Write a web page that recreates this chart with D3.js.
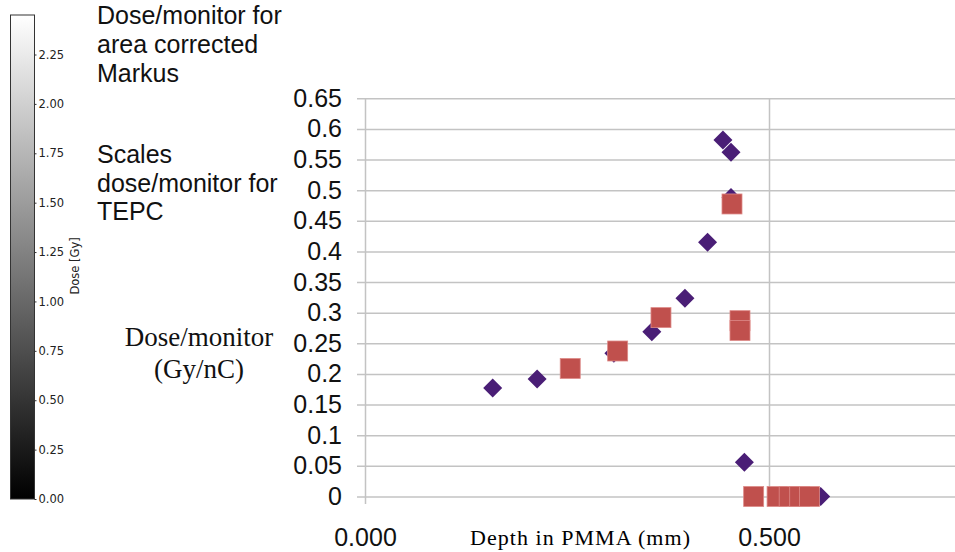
<!DOCTYPE html>
<html>
<head>
<meta charset="utf-8">
<script src="https://cdn.jsdelivr.net/npm/d3@7"></script>
<style>
  body { margin: 0; background: #fff; }
  svg { display: block; }
  .sans { font-family: "Liberation Sans", Arial, sans-serif; }
  .serif { font-family: "Liberation Serif", "Times New Roman", serif; }
</style>
</head>
<body>
<div class="canvas"></div>
<script>
const dims = { width: 955, height: 552 };

// area corrected Markus (diamonds)
const markusDepth = [0.158, 0.213, 0.308, 0.355, 0.396, 0.424, 0.453, 0.443, 0.453, 0.4695, 0.564];
const markusDose = [0.177, 0.192, 0.234, 0.269, 0.3235, 0.415, 0.488, 0.582, 0.562, 0.056, 0];

// scaled TEPC (squares)
const tepcDepth = [0.254, 0.3127, 0.3663, 0.4542, 0.4641, 0.4641, 0.481, 0.510, 0.525, 0.538, 0.550];
const tepcDose = [0.209, 0.2375, 0.292, 0.4775, 0.287, 0.271, 0, 0, 0, 0, 0];

const yTicks = [0, 0.05, 0.1, 0.15, 0.2, 0.25, 0.3, 0.35, 0.4, 0.45, 0.5, 0.55, 0.6, 0.65];
const xTicks = [0, 0.5];
const doseTicks = [0, 0.25, 0.5, 0.75, 1.0, 1.25, 1.5, 1.75, 2.0, 2.25];

const svg = d3.select('.canvas')
    .append('svg')
    .attr('width', dims.width)
    .attr('height', dims.height);

const x = d3.scaleLinear().domain([0, 0.5]).range([365, 769]);
const y = d3.scaleLinear().domain([0, 0.65]).range([496.5, 98.3]);

// horizontal grid + y labels
const yAxis = svg.append('g')
    .attr('class', 'sans')
    .attr('transform', 'translate(357,0)')
    .call(d3.axisLeft(y).tickValues(yTicks).tickSize(-(dims.width - 357)).tickPadding(15).tickFormat(d => String(d)));
yAxis.select('.domain').remove();
yAxis.selectAll('line').attr('stroke', '#c3c3c3').attr('stroke-width', 1.5);
yAxis.selectAll('text').attr('font-size', 25).attr('fill', '#111');

// vertical grid + x labels
const xAxis = svg.append('g')
    .attr('class', 'sans')
    .attr('transform', 'translate(0,504)')
    .call(d3.axisBottom(x).tickValues(xTicks).tickSize(-(504 - 98.3)).tickPadding(24).tickFormat(d3.format('.3f')));
xAxis.select('.domain').remove();
xAxis.selectAll('line').attr('stroke', '#c3c3c3').attr('stroke-width', 1.5);
xAxis.selectAll('text').attr('font-size', 25).attr('fill', '#111');

// markers
const diamond = 9.5;
svg.append('g').selectAll('path')
    .data(markusDepth.map((d, i) => ({ x: d, y: markusDose[i] })))
    .join('path')
    .attr('d', d => `M${x(d.x)},${y(d.y) - diamond}L${x(d.x) + diamond},${y(d.y)}L${x(d.x)},${y(d.y) + diamond}L${x(d.x) - diamond},${y(d.y)}Z`)
    .attr('fill', '#4a1e76');

const sq = 20;
svg.append('g').selectAll('rect')
    .data(tepcDepth.map((d, i) => ({ x: d, y: tepcDose[i] })))
    .join('rect')
    .attr('x', d => x(d.x) - sq / 2)
    .attr('y', d => y(d.y) - sq / 2)
    .attr('width', sq)
    .attr('height', sq)
    .attr('fill', '#c0504d')
    .attr('stroke', '#dd8a88')
    .attr('stroke-width', 0.8);

// axis titles
svg.append('text')
    .attr('class', 'serif')
    .attr('x', 580).attr('y', 545)
    .attr('text-anchor', 'middle')
    .attr('font-size', 22)
    .attr('textLength', 220)
    .attr('lengthAdjust', 'spacing')
    .text('Depth in PMMA (mm)');

const yTitle = svg.append('text')
    .attr('class', 'serif')
    .attr('text-anchor', 'middle')
    .attr('font-size', 27)
    .attr('fill', '#111');
yTitle.append('tspan').attr('x', 199).attr('y', 346).text('Dose/monitor');
yTitle.append('tspan').attr('x', 199).attr('y', 378).text('(Gy/nC)');

// legend-ish notes
const notes = [
    { text: 'Dose/monitor for', y: 24 },
    { text: 'area corrected', y: 53 },
    { text: 'Markus', y: 81.5 },
    { text: 'Scales', y: 163 },
    { text: 'dose/monitor for', y: 192 },
    { text: 'TEPC', y: 220 }
];
svg.append('g').attr('class', 'sans').selectAll('text')
    .data(notes)
    .join('text')
    .attr('x', 97)
    .attr('y', d => d.y)
    .attr('font-size', 25)
    .attr('fill', '#111')
    .text(d => d.text);

// colour bar
const cb = d3.scaleLinear().domain([0, 2.45]).range([499, 15]);
const grad = svg.append('defs').append('linearGradient')
    .attr('id', 'grey')
    .attr('x1', 0).attr('y1', 1).attr('x2', 0).attr('y2', 0);
grad.append('stop').attr('offset', 0).attr('stop-color', '#000');
grad.append('stop').attr('offset', 1).attr('stop-color', '#fff');

svg.append('rect')
    .attr('x', 10.5).attr('y', cb(2.45))
    .attr('width', 24).attr('height', cb(0) - cb(2.45))
    .attr('fill', 'url(#grey)')
    .attr('stroke', '#333')
    .attr('stroke-width', 1);

const cbAxis = svg.append('g')
    .attr('transform', 'translate(34.5,0)')
    .style('font-family', '"DejaVu Sans", sans-serif')
    .call(d3.axisRight(cb).tickValues(doseTicks).tickSize(2).tickPadding(2).tickFormat(d3.format('.2f')));
cbAxis.select('.domain').remove();
cbAxis.selectAll('line').attr('stroke', '#333');
cbAxis.selectAll('text').attr('font-size', 11.5).attr('fill', '#222');

svg.append('text')
    .attr('transform', `translate(79,${cb(1.18)}) rotate(-90)`)
    .attr('text-anchor', 'middle')
    .style('font-family', '"DejaVu Sans", sans-serif')
    .attr('font-size', 11.5)
    .attr('fill', '#222')
    .text('Dose [Gy]');
</script>
</body>
</html>
